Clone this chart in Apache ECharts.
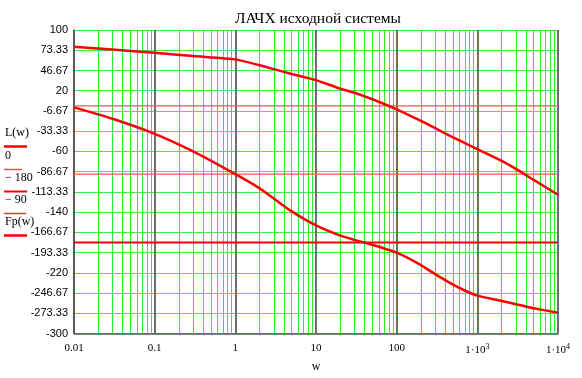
<!DOCTYPE html>
<html>
<head>
<meta charset="utf-8">
<script src="https://cdn.jsdelivr.net/npm/echarts@6/dist/echarts.min.js"></script>
<style>html,body{margin:0;padding:0;background:#fff}#c{width:582px;height:378px}</style>
</head>
<body>
<div id="c"></div>
<script>
// frequencies w
var wValues = [0.01, 0.03, 0.1, 0.3, 1, 2, 3, 5, 10, 20, 30, 50, 100, 200, 300, 500, 700, 1000, 2000, 3000, 5000, 10000];
// L(w)
var lValues = [78, 74.2, 70, 65.6, 61.3, 53.5, 48.4, 42, 34, 22.6, 17.4, 8.8, -4.5, -19.8, -29.3, -41.5, -49, -57, -72.5, -83, -97.5, -117];
// Fp(w)
var fpValues = [-2, -17, -36.8, -60, -90, -108.6, -122, -139, -157.5, -171, -176.5, -183, -193.3, -209.7, -221.7, -235.5, -243.2, -250, -257, -261.3, -266.5, -272.5];
var refLevels = [0, -180, -90];
var yTickLabels = ['100','73.33','46.67','20','-6.67','-33.33','-60','-86.67','-113.33','-140','-166.67','-193.33','-220','-246.67','-273.33','-300'];
var xTickLabels = {'0.01':'0.01','0.1':'0.1','1':'1','10':'10','100':'100','1000':'1·10{sup|3}','10000':'1·10{sup|4}'};
var legendNames = ['L(w)', '0', '\u2212 180', '\u2212 90', 'Fp(w)'];

var Y_MIN = -300, Y_MAX = 100;
function ty(v){ return (v - Y_MIN) * 3; } // shift so ticks start at 0, interval 80

var chart = echarts.init(document.getElementById('c'));
var minorX = [];
[0.01,0.1,1,10,100,1000].forEach(function(d){ for (var m=2;m<=9;m++) minorX.push({xAxis: Number((d*m).toPrecision(6))}); });

function pairs(vals){ return wValues.map(function(w,i){ return [w, ty(vals[i])]; }); }
function hline(v){ return [[wValues[0], ty(v)], [wValues[wValues.length-1], ty(v)]]; }

var serif = '"Liberation Serif","Times New Roman",serif';
var sans = '"Liberation Sans",Arial,sans-serif';

var option = {
  animation: false,
  title: {
    text: 'ЛАЧХ исходной системы', left: 313, top: 6, textAlign: 'center',
    textStyle: {fontFamily: serif, fontSize: 15.5, fontWeight: 'normal', color: '#000'}
  },
  grid: {left: 74, right: 24, top: 30, bottom: 38},
  xAxis: {
    type: 'log', logBase: 10, min: 0.01, max: 10000,
    name: 'w', nameLocation: 'middle', nameGap: 23,
    nameTextStyle: {fontFamily: serif, fontSize: 12, color: '#000'},
    axisLine: {show: true, onZero: false, lineStyle: {color: '#555', width: 1.5}},
    axisTick: {show: false},
    splitLine: {show: true, lineStyle: {color: '#6e6e6e', width: 2}},
    axisLabel: {
      margin: 9, color: '#000', fontFamily: serif, fontSize: 11,
      formatter: function(v){ var k = String(Number(v.toPrecision(6))); return xTickLabels[k] || k; },
      rich: {sup: {fontSize: 8, fontFamily: serif, color: '#000', padding: [0,0,8,0]}}
    }
  },
  yAxis: {
    type: 'value', min: 0, max: ty(Y_MAX), interval: 80,
    axisLine: {show: true, lineStyle: {color: '#555', width: 1.5}},
    axisTick: {show: false},
    splitLine: {show: true, lineStyle: {color: '#3fef3f', width: 1.2}},
    axisLabel: {
      margin: 6, color: '#000', fontFamily: sans, fontSize: 11,
      formatter: function(v){ return yTickLabels[Math.round((ty(Y_MAX) - v) / 80)]; }
    }
  },
  series: [
    {type: 'line', data: [], silent: true,
     markLine: {silent: true, symbol: 'none', label: {show: false},
       lineStyle: {color: '#2ee82e', width: 1, type: 'solid'}, data: minorX}, z: 1},
    {name: legendNames[1], type: 'line', data: hline(refLevels[0]), symbol: 'none', z: 5,
     lineStyle: {color: '#ff5555', width: 1.3}},
    {name: legendNames[2], type: 'line', data: hline(refLevels[1]), symbol: 'none', z: 5,
     lineStyle: {color: '#ff0000', width: 2}},
    {name: legendNames[3], type: 'line', data: hline(refLevels[2]), symbol: 'none', z: 5,
     lineStyle: {color: '#ff5555', width: 1.3}},
    {name: legendNames[0], type: 'line', data: pairs(lValues), symbol: 'none', smooth: 0.2, z: 6,
     lineStyle: {color: '#ff0000', width: 2.5}},
    {name: legendNames[4], type: 'line', data: pairs(fpValues), symbol: 'none', smooth: 0.2, z: 6,
     lineStyle: {color: '#ff0000', width: 2.5}}
  ],
  graphic: (function(){
    var items = [];
    var ys = [135, 158, 180, 202, 224];
    var styles = [{c:'#ff0000',w:2.5,x2:27},{c:'#ff4d4d',w:1.5,x2:22},{c:'#ff0000',w:2,x2:27},{c:'#ff3030',w:1.5,x2:26},{c:'#ff0000',w:2.5,x2:27}];
    legendNames.forEach(function(n, i){
      items.push({type:'text', left: 5, top: ys[i]-8, style:{text: n, font: '12px ' + serif, fill:'#000'}});
      items.push({type:'line', shape:{x1:4, y1:Math.round(ys[i]+11)+0.5, x2:styles[i].x2, y2:Math.round(ys[i]+11)+0.5}, style:{stroke: styles[i].c, lineWidth: styles[i].w}});
    });
    return items;
  })()
};
chart.setOption(option);
</script>
</body>
</html>
